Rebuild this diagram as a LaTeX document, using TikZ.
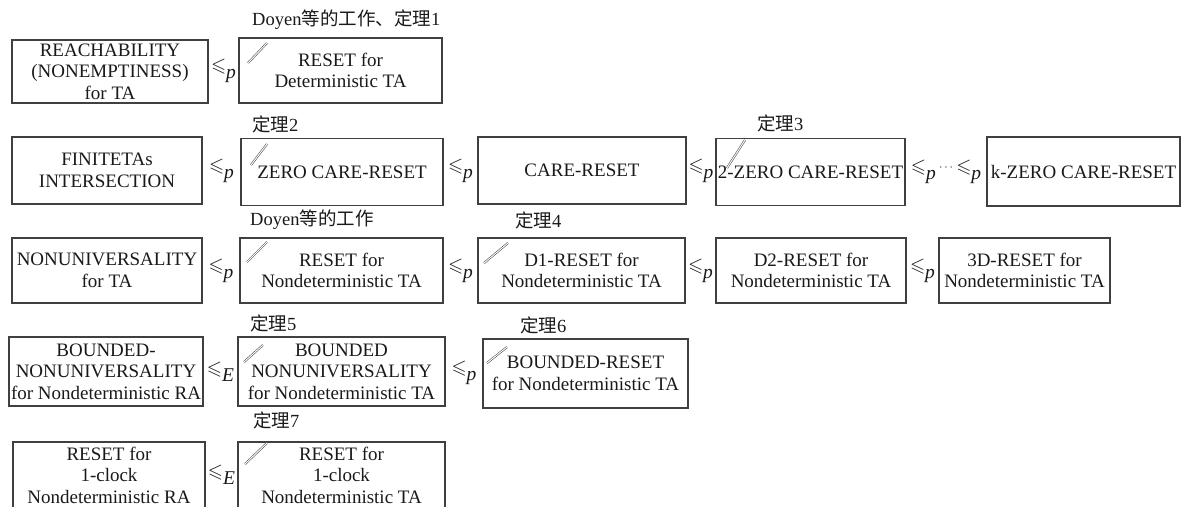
\documentclass[tikz,border=0pt]{standalone}
\usepackage{fontspec}
\usepackage{amssymb}
\setmainfont{Liberation Serif}
\newfontfamily\cjk{Noto Sans CJK SC}
\usetikzlibrary{calc}
\newcommand\rl[1]{$\leqslant$\raisebox{-0.8ex}{\itshape #1}}
\begin{document}
\begin{tikzpicture}[x=1pt,y=-1pt,
  box/.style={draw=black!75, line width=1.2pt, inner sep=0pt, align=center,
    font=\fontsize{19}{21.5}\selectfont, text=black!90},
  lbl/.style={anchor=west, inner sep=0pt, font=\fontsize{18.5}{20}\selectfont, text=black!90},
  rel/.style={inner sep=0pt, font=\fontsize{19.5}{21}\selectfont, text=black!90},
  slashmark/.style={draw=black!65, double=white, double distance=0.9pt, line width=0.6pt}]
\useasboundingbox (0,0) rectangle (1183,506);
\clip (0,0) rectangle (1183,506);

% row 1
\node[box, minimum width=196pt, minimum height=63pt] (A1) at (110,71.5) {REACHABILITY\\(NONEMPTINESS)\\for TA};
\node[box, minimum width=203pt, minimum height=65pt] (A2) at (340.5,70.5) {RESET for\\Deterministic TA};
\node[lbl] (L1) at (252,20) {Doyen{\cjk 等的工作、定理}1};
\node[rel] (r1) at ($(A1.east)!0.5!(A2.west)$) {\rl{p}};

% row 2
\node[box, minimum width=190pt, minimum height=67pt] (B1) at (107,170.5) {FINITETAs\\INTERSECTION};
\node[box, minimum width=202pt, minimum height=67pt] (B2) at (342,172) {ZERO CARE-RESET};
\node[box, minimum width=208pt, minimum height=67pt] (B3) at (582,170.5) {CARE-RESET};
\node[box, minimum width=189pt, minimum height=67pt] (B4) at (810.5,172) {2-ZERO CARE-RESET};
\node[box, minimum width=193pt, minimum height=69pt] (B5) at (1083.5,171.5) {k-ZERO CARE-RESET};
\node[lbl] (L2) at (252,124) {{\cjk 定理}2};
\node[lbl] (L3) at (757,123) {{\cjk 定理}3};
\node[rel] (r2a) at ($(B1.east)!0.5!(B2.west)$) {\rl{p}};
\node[rel] (r2b) at ($(B2.east)!0.5!(B3.west)$) {\rl{p}};
\node[rel] (r2c) at ($(B3.east)!0.5!(B4.west)$) {\rl{p}};
\node[rel] (r2d) at ($(B4.east)!0.5!(B5.west)$) {\rl{p}\,\raisebox{0.2ex}{\fontsize{12}{12}\selectfont$\cdots$}\,\rl{p}};

% row 3
\node[box, minimum width=190pt, minimum height=65pt] (C1) at (107,270.5) {NONUNIVERSALITY\\for TA};
\node[box, minimum width=203pt, minimum height=65pt] (C2) at (341.5,270.5) {RESET for\\Nondeterministic TA};
\node[box, minimum width=207pt, minimum height=65pt] (C3) at (581.5,270.5) {D1-RESET for\\Nondeterministic TA};
\node[box, minimum width=190pt, minimum height=65pt] (C4) at (811,270.5) {D2-RESET for\\Nondeterministic TA};
\node[box, minimum width=171pt, minimum height=65pt] (C5) at (1024.5,270.5) {3D-RESET for\\Nondeterministic TA};
\node[lbl] (L4) at (250,220) {Doyen{\cjk 等的工作}};
\node[lbl] (L5) at (515,220) {{\cjk 定理}4};
\node[rel] (r3a) at ($(C1.east)!0.5!(C2.west)$) {\rl{p}};
\node[rel] (r3b) at ($(C2.east)!0.5!(C3.west)$) {\rl{p}};
\node[rel] (r3c) at ($(C3.east)!0.5!(C4.west)$) {\rl{p}};
\node[rel] (r3d) at ($(C4.east)!0.5!(C5.west)$) {\rl{p}};

% row 4
\node[box, minimum width=194pt, minimum height=69pt] (D1) at (106,371.5) {BOUNDED-\\NONUNIVERSALITY\\for Nondeterministic RA};
\node[box, minimum width=207pt, minimum height=69pt] (D2) at (341.5,371.5) {BOUNDED\\NONUNIVERSALITY\\for Nondeterministic TA};
\node[box, minimum width=205pt, minimum height=69pt] (D3) at (585.5,373.5) {BOUNDED-RESET\\for Nondeterministic TA};
\node[lbl] (L6) at (250,323) {{\cjk 定理}5};
\node[lbl] (L7) at (520,325) {{\cjk 定理}6};
\node[rel] (r4a) at ($(D1.east)!0.5!(D2.west)$) {\rl{E}};
\node[rel] (r4b) at ($(D2.east)!0.5!(D3.west)$) {\rl{p}};

% row 5
\node[box, minimum width=192pt, minimum height=66pt] (E1) at (109,475) {RESET for\\1-clock\\Nondeterministic RA};
\node[box, minimum width=207pt, minimum height=66pt] (E2) at (341.5,475) {RESET for\\1-clock\\Nondeterministic TA};
\node[lbl] (L8) at (253,420) {{\cjk 定理}7};
\node[rel] (r5a) at ($(E1.east)!0.5!(E2.west)$) {\rl{E}};

% slash marks
\draw[slashmark] (248,63) -- (267,43);
\draw[slashmark] (251,165) -- (267,144);
\draw[slashmark] (727,168) -- (745,140);
\draw[slashmark] (247,262) -- (267,242);
\draw[slashmark] (484,263) -- (508,243);
\draw[slashmark] (244,362) -- (263,345);
\draw[slashmark] (487,363) -- (507,347);
\draw[slashmark] (245,464) -- (267,443);
\end{tikzpicture}
\end{document}
